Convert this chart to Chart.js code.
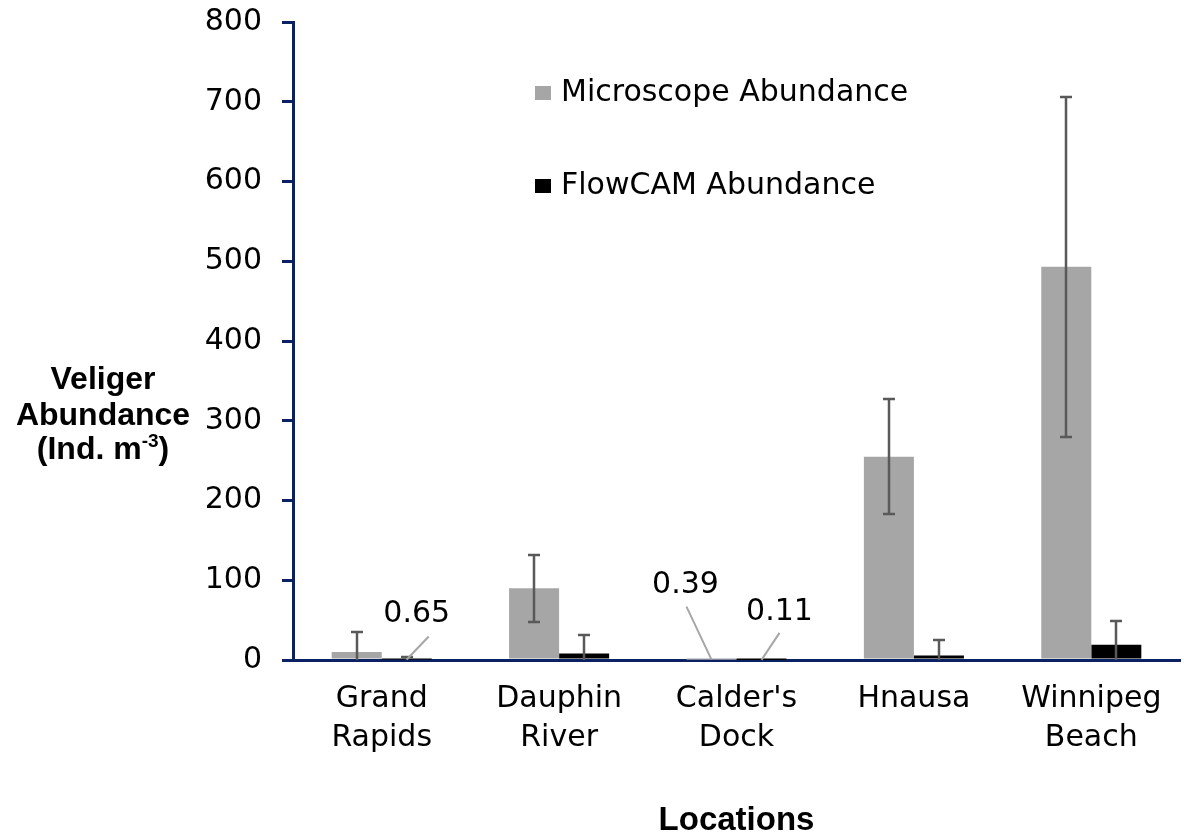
<!DOCTYPE html>
<html>
<head>
<meta charset="utf-8">
<script src="https://cdn.jsdelivr.net/npm/chart.js@4/dist/chart.umd.min.js"></script>
<style>
html,body{margin:0;padding:0;background:#fff;}
canvas{display:block;}
</style>
</head>
<body>
<canvas id="c" width="1184" height="838"></canvas>
<script>
// ---- data ----
const categories = [["Grand", "Rapids"], ["Dauphin", "River"], ["Calder's", "Dock"], ["Hnausa"], ["Winnipeg", "Beach"]];
const seriesNames = ["Microscope Abundance", "FlowCAM Abundance"];
const microscopeValues = [10, 90, 0.39, 255, 493];
const microscopeErrors = [25, 42, null, 72, 213];
const flowcamValues = [0.65, 8, 0.11, 5.5, 19];
const flowcamErrors = [3.5, 23, null, 20, 30];
const yTickValues = [0, 100, 200, 300, 400, 500, 600, 700, 800];
const labelledValues = [
  { dataset: 1, index: 0, text: "0.65" },
  { dataset: 0, index: 2, text: "0.39" },
  { dataset: 1, index: 2, text: "0.11" }
];
const yTitleLines = ["Veliger", "Abundance"];
const xTitle = "Locations";

// ---- styles ----
const AXIS = '#0a2263';
const REG = '"DejaVu Sans", sans-serif';
const BOLD = '"Liberation Sans", Arial, sans-serif';
const seriesColors = ['#a6a6a6', '#000000'];
const leaderOffsets = [ // label anchor relative to bar top: [lineEndDx, lineEndDy, textDx, textBaselineDy]
  [22, -23, 10, -37],
  [-25, -53, -26, -67],
  [18, -27, 18, -40]
];

const errorPlugin = {
  id: 'errorbars',
  afterDatasetsDraw(chart) {
    const ctx = chart.ctx, y = chart.scales.y, a = chart.chartArea;
    const errs = [microscopeErrors, flowcamErrors];
    ctx.save();
    ctx.beginPath();
    ctx.rect(a.left, a.top - 10, a.right - a.left, a.bottom - a.top + 10);
    ctx.clip();
    ctx.strokeStyle = '#595959';
    ctx.lineWidth = 2.5;
    chart.data.datasets.forEach((ds, di) => {
      const meta = chart.getDatasetMeta(di);
      meta.data.forEach((el, i) => {
        const e = errs[di][i];
        if (e == null) return;
        const v = ds.data[i];
        const yt = Math.round(y.getPixelForValue(v + e));
        const yb = Math.round(y.getPixelForValue(v - e));
        const x = Math.round(el.x);
        ctx.beginPath();
        ctx.moveTo(x, yt); ctx.lineTo(x, yb);
        ctx.moveTo(x - 6, yt); ctx.lineTo(x + 6, yt);
        ctx.moveTo(x - 6, yb); ctx.lineTo(x + 6, yb);
        ctx.stroke();
      });
    });
    ctx.restore();
  }
};

const annotPlugin = {
  id: 'annot',
  afterDraw(chart) {
    const ctx = chart.ctx;
    ctx.save();
    // data labels with leader lines
    labelledValues.forEach((lv, k) => {
      const el = chart.getDatasetMeta(lv.dataset).data[lv.index];
      const o = leaderOffsets[k];
      ctx.strokeStyle = '#a6a6a6';
      ctx.lineWidth = 2;
      ctx.beginPath();
      ctx.moveTo(el.x, el.y);
      ctx.lineTo(el.x + o[0], el.y + o[1]);
      ctx.stroke();
      ctx.fillStyle = '#000';
      ctx.font = '30px ' + REG;
      ctx.textAlign = 'center';
      ctx.textBaseline = 'alphabetic';
      ctx.fillText(lv.text, el.x + o[2], el.y + o[3]);
    });
    // legend
    const lx = 535, ly = [93, 186];
    seriesNames.forEach((n, i) => {
      ctx.fillStyle = seriesColors[i];
      ctx.fillRect(lx, ly[i] - 7, 16, 14);
      ctx.fillStyle = '#000';
      ctx.font = '30px ' + REG;
      ctx.textAlign = 'left';
      ctx.textBaseline = 'middle';
      ctx.fillText(n, lx + 26, ly[i]);
    });
    // y title
    ctx.fillStyle = '#000';
    ctx.font = 'bold 32px ' + BOLD;
    ctx.textAlign = 'center';
    ctx.textBaseline = 'alphabetic';
    const cx = 103;
    ctx.fillText(yTitleLines[0], cx, 389);
    ctx.fillText(yTitleLines[1], cx, 425);
    const p1 = '(Ind. m', sup = '-3', p2 = ')';
    ctx.font = 'bold 32px ' + BOLD;
    const w1 = ctx.measureText(p1).width, w3 = ctx.measureText(p2).width;
    ctx.font = 'bold 19px ' + BOLD;
    const w2 = ctx.measureText(sup).width;
    let x0 = cx - (w1 + w2 + w3) / 2;
    ctx.textAlign = 'left';
    ctx.font = 'bold 32px ' + BOLD;
    ctx.fillText(p1, x0, 459);
    ctx.font = 'bold 19px ' + BOLD;
    ctx.fillText(sup, x0 + w1, 447);
    ctx.font = 'bold 32px ' + BOLD;
    ctx.fillText(p2, x0 + w1 + w2, 459);
    ctx.restore();
  }
};

new Chart(document.getElementById('c'), {
  type: 'bar',
  data: {
    labels: categories,
    datasets: [
      { label: seriesNames[0], data: microscopeValues, backgroundColor: seriesColors[0], borderWidth: 0 },
      { label: seriesNames[1], data: flowcamValues, backgroundColor: seriesColors[1], borderWidth: 0 }
    ]
  },
  options: {
    responsive: false,
    animation: false,
    devicePixelRatio: 1,
    layout: { padding: { top: 22, right: 4, bottom: 0, left: 0 } },
    datasets: { bar: { categoryPercentage: 0.564, barPercentage: 1.0 } },
    plugins: { legend: { display: false }, tooltip: { enabled: false } },
    scales: {
      x: {
        z: 1,
        grid: { display: false, drawTicks: false },
        border: { display: true, color: AXIS, width: 3 },
        ticks: { color: '#000', padding: 20, font: { family: REG, size: 30, lineHeight: 1.3 }, maxRotation: 0, autoSkip: false },
        title: { display: true, text: xTitle, color: '#000', font: { family: BOLD, size: 33, weight: 'bold', lineHeight: 1.0 }, padding: { top: 0, bottom: 1 } },
        afterFit(s) { s.height = 178; s.paddingLeft = 0; s.paddingRight = 0; }
      },
      y: {
        min: 0, max: 800,
        afterBuildTicks(s) { s.ticks = yTickValues.map(v => ({ value: v })); },
        grid: { display: true, drawOnChartArea: false, drawTicks: true, tickLength: 11, color: AXIS, lineWidth: 3 },
        border: { display: true, color: AXIS, width: 3 },
        ticks: { color: '#000', padding: 20, font: { family: REG, size: 30 } },
        afterFit(s) { s.width = 293; s.paddingTop = 0; s.paddingBottom = 0; }
      }
    }
  },
  plugins: [errorPlugin, annotPlugin]
});
</script>
</body>
</html>
